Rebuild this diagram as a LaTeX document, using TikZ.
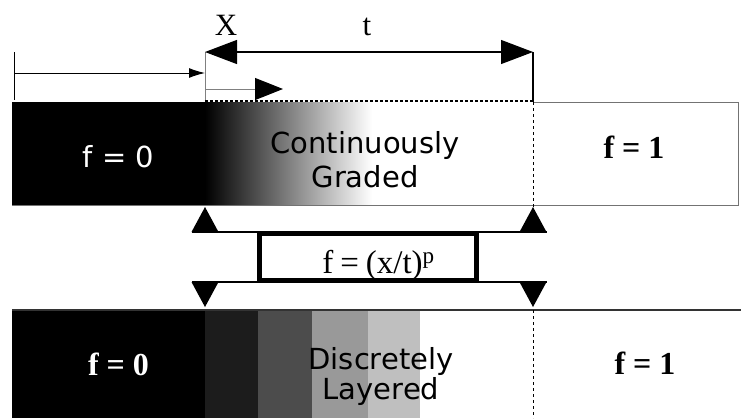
\documentclass[tikz,border=0pt]{standalone}
\usepackage{fontspec}
\setmainfont{Liberation Serif}
\newfontfamily\barfont{DejaVu Sans}
\usetikzlibrary{arrows.meta,positioning}

\begin{document}
\begin{tikzpicture}[x=1pt,y=-1pt,
  rim/.style={draw=black!55,line width=1pt},
  bigarrows/.style={arrows={Triangle[length=32pt,width=24pt]-Triangle[length=32pt,width=24pt]}},
  bigtip/.style={arrows={-Triangle[length=28pt,width=22pt,color=black]}},
  smalltip/.style={arrows={-Latex[length=16pt,width=10pt]}},
  sanslbl/.style={font=\barfont\fontsize{29}{34}\selectfont,align=center,inner sep=0pt},
  boldlbl/.style={font=\bfseries\fontsize{32}{32}\selectfont,inner sep=0pt,anchor=base},
  dimlbl/.style={font=\fontsize{31}{31}\selectfont,inner sep=0pt,anchor=base}]
\useasboundingbox (0,0) rectangle (741,418);

% upper bar: continuously graded
\fill (12,102) rectangle (205,205);
\shade[left color=black,right color=white] (205,102) rectangle (372,205);
\draw[rim] (533,102) -- (738,102) -- (738,205) -- (12,205);
\draw[dashed,line width=1.2pt,dash pattern=on 3pt off 2pt] (205,101) -- (533,101);
\draw[dashed] (533,102) -- (533,208);
\node[sanslbl,white,anchor=base] (gr0) at (118.5,167) {f = 0};
\node[sanslbl] (grmid) at (365,160) {Continuously\\Graded};
\node[boldlbl] (gr1) at (634,158) {f = 1};

% lower bar: discretely layered
\fill (12,310) rectangle (205,418);
\fill[black!89] (205,310) rectangle (258,418);
\fill[black!70] (258,310) rectangle (312,418);
\fill[black!40] (312,310) rectangle (368,418);
\fill[black!25] (368,310) rectangle (420,418);
\draw[line width=1.2pt,black!80] (12,310) -- (741,310);
\draw[dashed] (533,310) -- (533,418);
\node[boldlbl,white] (ly0) at (118.5,375) {f = 0};
\node[sanslbl,font=\barfont\fontsize{29}{30}\selectfont] (lymid) at (381,376) {Discretely\\Layered};
\node[boldlbl] (ly1) at (645,374) {f = 1};

% dimensions x and t
\coordinate (zero) at (14,73);
\coordinate (xa) at (205,52);
\coordinate (xb) at (205,100);
\coordinate (tb) at (533,52);
\draw (14,52) -- (14,100);
\draw[black!50] (xa) -- (xb);
\draw[line width=1.2pt] (tb) -- (533,102);
\draw[smalltip,line width=1pt] (zero) -- (zero -| xa);
\draw[bigarrows,line width=1.2pt] (xa) -- (tb);
\draw[bigtip,black!50,line width=1pt] (205,89) -- (283,89);
\node[dimlbl] (xlbl) at (226,35) {X};
\node[dimlbl] (tlbl) at (367,35) {t};

% power law between the bars
\node[draw,line width=5pt,minimum width=217pt,minimum height=46.5pt,inner sep=0pt] (law) at (367.5,257) {};
\node[dimlbl,font=\fontsize{33}{33}\selectfont] (lawtxt) at (378.5,273) {f\hspace{7pt}=\hspace{7pt}(x/t)\textsuperscript{p}};
\draw[line width=1.5pt] (192,232) -- (547,232);
\draw[line width=1.5pt] (192,282) -- (547,282);
\foreach \u in {205,533} {
  \fill (\u-13.5,232) -- (\u+13.5,232) -- (\u,207) -- cycle;
  \fill (\u-13.5,282) -- (\u+13.5,282) -- (\u,307) -- cycle;
}
\end{tikzpicture}
\end{document}
